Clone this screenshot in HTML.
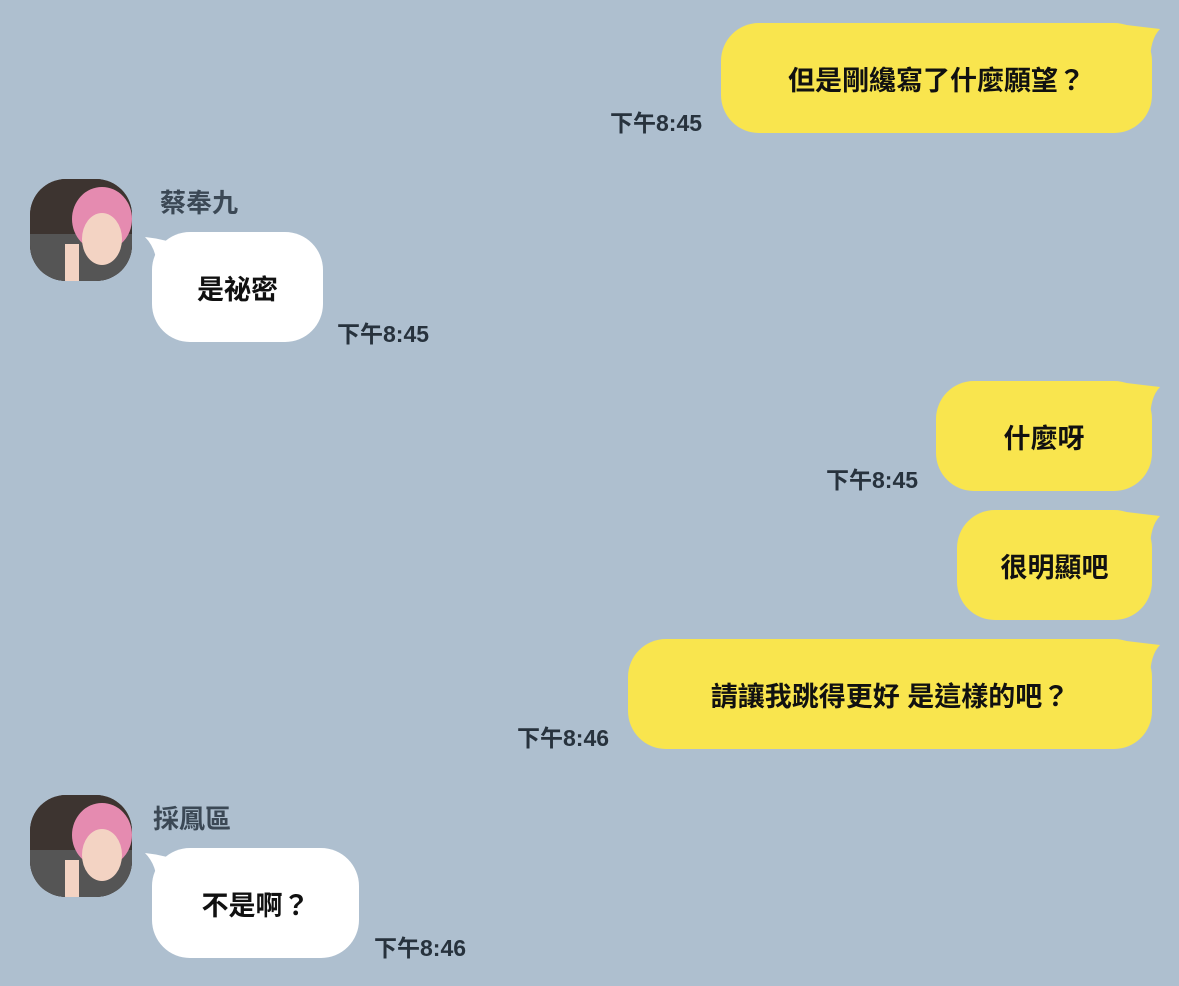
<!DOCTYPE html>
<html><head><meta charset="utf-8"><style>
body{margin:0;width:1179px;height:986px;background:#aebfcf;position:relative;overflow:hidden;font-family:"Liberation Sans","Noto Sans CJK TC",sans-serif;}
.b{position:absolute;height:110px;border-radius:38px;display:flex;align-items:center;justify-content:center;font-weight:bold;font-size:27px;color:#111;}
.y{background:#f9e54e;}
.w{background:#fff;}
.t{position:absolute;font-weight:bold;font-size:23px;color:#27323d;}
.n{position:absolute;font-weight:bold;font-size:26px;color:#3b4855;}
.av{position:absolute;width:102px;height:102px;border-radius:36px;overflow:hidden;background:#4a3a32;}
svg.tail{position:absolute;overflow:visible}
</style></head><body>

<svg class="tail" style="left:1110px;top:23px" width="50" height="40"><path d="M0 0 L50 6 Q40 16 40 40 L0 40Z" fill="#f9e54e"/></svg>
<div class="b y" style="left:721px;top:23px;width:431px">但是剛纔寫了什麼願望？</div>
<div class="t" style="left:610px;top:104px">下午8:45</div>

<div class="av" style="left:30px;top:179px"><svg width="102" height="102"><rect width="102" height="102" fill="#3d3430"/><rect y="55" width="102" height="47" fill="#555"/><ellipse cx="72" cy="40" rx="30" ry="32" fill="#e58bb0"/><ellipse cx="72" cy="60" rx="20" ry="26" fill="#f3d3c3"/><rect x="35" y="65" width="14" height="37" fill="#f3d3c3"/></svg></div>
<div class="n" style="left:160px;top:183px">蔡奉九</div>
<svg class="tail" style="left:145px;top:237px" width="40" height="40"><path d="M0 0 Q20 2 40 10 L40 40 L12 40 Q14 14 0 0Z" fill="#fff"/></svg>
<div class="b w" style="left:152px;top:232px;width:171px">是祕密</div>
<div class="t" style="left:337px;top:315px">下午8:45</div>

<svg class="tail" style="left:1110px;top:381px" width="50" height="40"><path d="M0 0 L50 6 Q40 16 40 40 L0 40Z" fill="#f9e54e"/></svg>
<div class="b y" style="left:936px;top:381px;width:216px">什麼呀</div>
<div class="t" style="left:826px;top:461px">下午8:45</div>

<svg class="tail" style="left:1110px;top:510px" width="50" height="40"><path d="M0 0 L50 6 Q40 16 40 40 L0 40Z" fill="#f9e54e"/></svg>
<div class="b y" style="left:957px;top:510px;width:195px">很明顯吧</div>

<svg class="tail" style="left:1110px;top:639px" width="50" height="40"><path d="M0 0 L50 6 Q40 16 40 40 L0 40Z" fill="#f9e54e"/></svg>
<div class="b y" style="left:628px;top:639px;width:524px">請讓我跳得更好 是這樣的吧？</div>
<div class="t" style="left:517px;top:719px">下午8:46</div>

<div class="av" style="left:30px;top:795px"><svg width="102" height="102"><rect width="102" height="102" fill="#3d3430"/><rect y="55" width="102" height="47" fill="#555"/><ellipse cx="72" cy="40" rx="30" ry="32" fill="#e58bb0"/><ellipse cx="72" cy="60" rx="20" ry="26" fill="#f3d3c3"/><rect x="35" y="65" width="14" height="37" fill="#f3d3c3"/></svg></div>
<div class="n" style="left:153px;top:799px">採鳳區</div>
<svg class="tail" style="left:145px;top:853px" width="40" height="40"><path d="M0 0 Q20 2 40 10 L40 40 L12 40 Q14 14 0 0Z" fill="#fff"/></svg>
<div class="b w" style="left:152px;top:848px;width:207px">不是啊？</div>
<div class="t" style="left:374px;top:929px">下午8:46</div>
</body></html>
